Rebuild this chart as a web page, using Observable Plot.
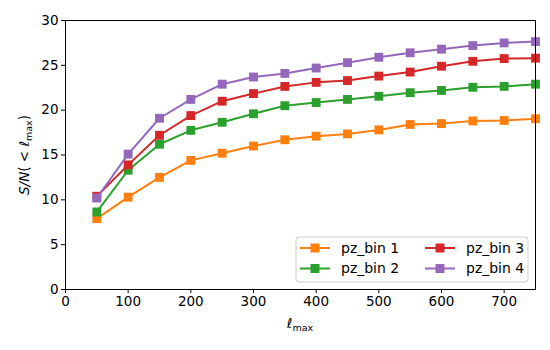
<!DOCTYPE html>
<html>
<head>
<meta charset="utf-8">
<script src="https://cdn.jsdelivr.net/npm/d3@7"></script>
<script src="https://cdn.jsdelivr.net/npm/@observablehq/plot@0.6"></script>
<style>
  html, body { margin: 0; padding: 0; background: #fff; }
  #chart { position: relative; width: 550px; height: 350px; }
  svg { font-family: "DejaVu Sans", sans-serif; }
</style>
</head>
<body>
<div id="chart"></div>
<script>
const ellMax = [50, 100, 150, 200, 250, 300, 350, 400, 450, 500, 550, 600, 650, 700, 750];
const seriesNames = ["pz_bin 1", "pz_bin 2", "pz_bin 3", "pz_bin 4"];
const seriesColors = ["#ff7f0e", "#2ca02c", "#d62728", "#9467bd"];
const bin1 = [7.9, 10.3, 12.5, 14.4, 15.2, 16.0, 16.7, 17.1, 17.35, 17.8, 18.4, 18.5, 18.8, 18.85, 19.05];
const bin2 = [8.65, 13.3, 16.2, 17.75, 18.65, 19.6, 20.5, 20.85, 21.2, 21.55, 21.95, 22.2, 22.55, 22.65, 22.9];
const bin3 = [10.4, 13.9, 17.2, 19.4, 21.0, 21.85, 22.65, 23.1, 23.3, 23.8, 24.25, 24.9, 25.45, 25.75, 25.8];
const bin4 = [10.2, 15.1, 19.1, 21.2, 22.9, 23.7, 24.1, 24.7, 25.3, 25.9, 26.4, 26.8, 27.2, 27.5, 27.65];
const xTicks = [0, 100, 200, 300, 400, 500, 600, 700];
const yTicks = [0, 5, 10, 15, 20, 25, 30];

const allSeries = [bin1, bin2, bin3, bin4];
const rows = [];
allSeries.forEach((vals, i) => vals.forEach((v, j) => rows.push({series: seriesNames[i], x: ellMax[j], y: v})));

const plot = Plot.plot({
  width: 550,
  height: 350,
  marginLeft: 65,
  marginRight: 15,
  marginTop: 20,
  marginBottom: 61,
  style: {fontFamily: "DejaVu Sans, sans-serif", fontSize: "13.5px", background: "#fff", color: "#000"},
  x: {domain: [0, 750]},
  y: {domain: [0, 30]},
  color: {domain: seriesNames, range: seriesColors},
  marks: [
    ...seriesNames.map((name, i) => [
      Plot.line(rows.filter(d => d.series === name), {x: "x", y: "y", stroke: seriesColors[i], strokeWidth: 2}),
      Plot.dot(rows.filter(d => d.series === name), {x: "x", y: "y", symbol: "square", r: 5, fill: seriesColors[i], stroke: null})
    ]).flat(),
    Plot.frame({stroke: "#000", strokeWidth: 1}),
    Plot.axisX({ticks: xTicks, tickSize: 4, tickPadding: 3, label: null, fontSize: 13.5, tickFormat: d => String(d)}),
    Plot.axisY({ticks: yTicks, tickSize: 4, tickPadding: 3, label: null, fontSize: 13.5, tickFormat: d => String(d)})
  ]
});
document.getElementById("chart").appendChild(plot);

const svg = d3.select(plot);
// x label
const xl = svg.append("text").attr("x", 300).attr("y", 328).attr("text-anchor", "middle")
  .attr("font-size", 13.5).attr("fill", "#000");
xl.append("tspan").attr("font-style", "italic").text("ℓ");
xl.append("tspan").attr("font-size", 9.5).attr("dy", 3).text("max");

// y label
const yl = svg.append("text").attr("transform", "translate(29,155) rotate(-90)").attr("text-anchor", "middle")
  .attr("font-size", 13.5).attr("fill", "#000");
yl.append("tspan").attr("font-style", "italic").text("S/N");
yl.append("tspan").text("( < ");
yl.append("tspan").attr("font-style", "italic").text("ℓ");
yl.append("tspan").attr("font-size", 9.5).attr("dy", 3).text("max");
yl.append("tspan").attr("dy", -3).text(")");

// legend
const lg = svg.append("g").attr("text-anchor", "start");
lg.append("rect").attr("x", 296).attr("y", 237).attr("width", 232).attr("height", 45).attr("rx", 3)
  .attr("fill", "#fff").attr("fill-opacity", 0.8).attr("stroke", "#ccc");
const cols = [300, 425];
const rowsY = [248, 268.5];
seriesNames.forEach((name, i) => {
  const cx = cols[Math.floor(i / 2)];
  const cy = rowsY[i % 2];
  lg.append("line").attr("x1", cx).attr("x2", cx + 30).attr("y1", cy).attr("y2", cy)
    .attr("stroke", seriesColors[i]).attr("stroke-width", 2);
  lg.append("rect").attr("x", cx + 15 - 4.5).attr("y", cy - 4.5).attr("width", 9).attr("height", 9).attr("fill", seriesColors[i]);
  lg.append("text").attr("x", cx + 41).attr("y", cy).attr("dy", "0.35em").attr("text-anchor", "start")
    .attr("font-size", 14).attr("fill", "#000").text(name);
});
</script>
</body>
</html>
